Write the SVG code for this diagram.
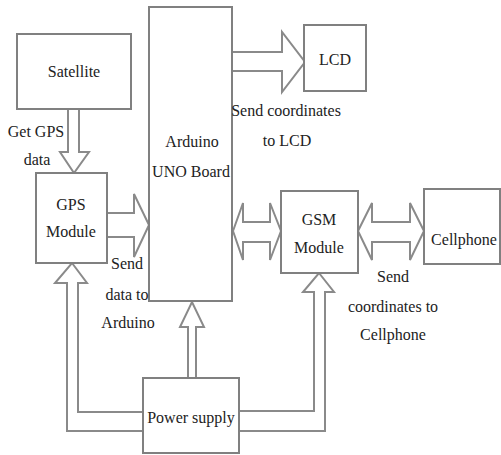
<svg xmlns="http://www.w3.org/2000/svg" width="501" height="455" viewBox="0 0 501 455">
<style>
.box{fill:#fff;stroke:#808080;stroke-width:2}
.arr{fill:#fff;stroke:#8a8a8a;stroke-width:2;stroke-linejoin:miter}
text{font-family:"Liberation Serif","Times New Roman",serif;font-size:16px;fill:#222;text-anchor:middle}
</style>
<rect width="501" height="455" fill="#fff"/>
<g id="connectors">
<polygon class="arr" points="68,109 68,152 60,152 74,173 89,152 79,152 79,109"/>
<polygon class="arr" points="107,213 134,213 134,194 149,225 134,257 134,237 107,237"/>
<polygon class="arr" points="232,52 282,52 282,32 305,62 282,92 282,71 232,71"/>
<polygon class="arr" points="233,231 243,203 243,222 270,222 270,203 281,231 270,260 270,242 243,242 243,260"/>
<polygon class="arr" points="358,231 372,203 372,222 410,222 410,203 424,231 410,260 410,242 372,242 372,260"/>
<polygon class="arr" points="188,378 188,327 180,327 192,302 204,327 196,327 196,378"/>
<polygon class="arr" points="143,431 67,431 67,283 55,283 72,263 87,283 78,283 78,412 143,412"/>
<polygon class="arr" points="239,411 314,411 314,292 303,292 319,273 334,292 325,292 325,431 239,431"/>
</g>
<g id="satellite"><rect class="box" x="17" y="34" width="114" height="75"/><text x="74" y="77">Satellite</text></g>
<g id="arduino"><rect class="box" x="149" y="7" width="83" height="294"/><text x="192" y="147">Arduino</text><text x="191" y="177">UNO Board</text></g>
<g id="gps"><rect class="box" x="36" y="173" width="71" height="90"/><text x="71" y="210">GPS</text><text x="71" y="237">Module</text></g>
<g id="lcd"><rect class="box" x="304" y="25" width="62" height="66"/><text x="335" y="65">LCD</text></g>
<g id="gsm"><rect class="box" x="281" y="191" width="77" height="82"/><text x="319" y="225">GSM</text><text x="319" y="253">Module</text></g>
<g id="cellphone"><rect class="box" x="424" y="189" width="76" height="75"/><text x="464" y="245">Cellphone</text></g>
<g id="power"><rect class="box" x="143" y="378" width="96" height="75"/><text x="191" y="423">Power supply</text></g>
<g id="labels">
<text x="36" y="137">Get GPS</text><text x="37" y="165">data</text>
<text x="286" y="116">Send coordinates</text><text x="287" y="146">to LCD</text>
<text x="127" y="269">Send</text><text x="127" y="300">data to</text><text x="128" y="328">Arduino</text>
<text x="393" y="282">Send</text><text x="393" y="312">coordinates to</text><text x="393" y="340">Cellphone</text>
</g>
</svg>
